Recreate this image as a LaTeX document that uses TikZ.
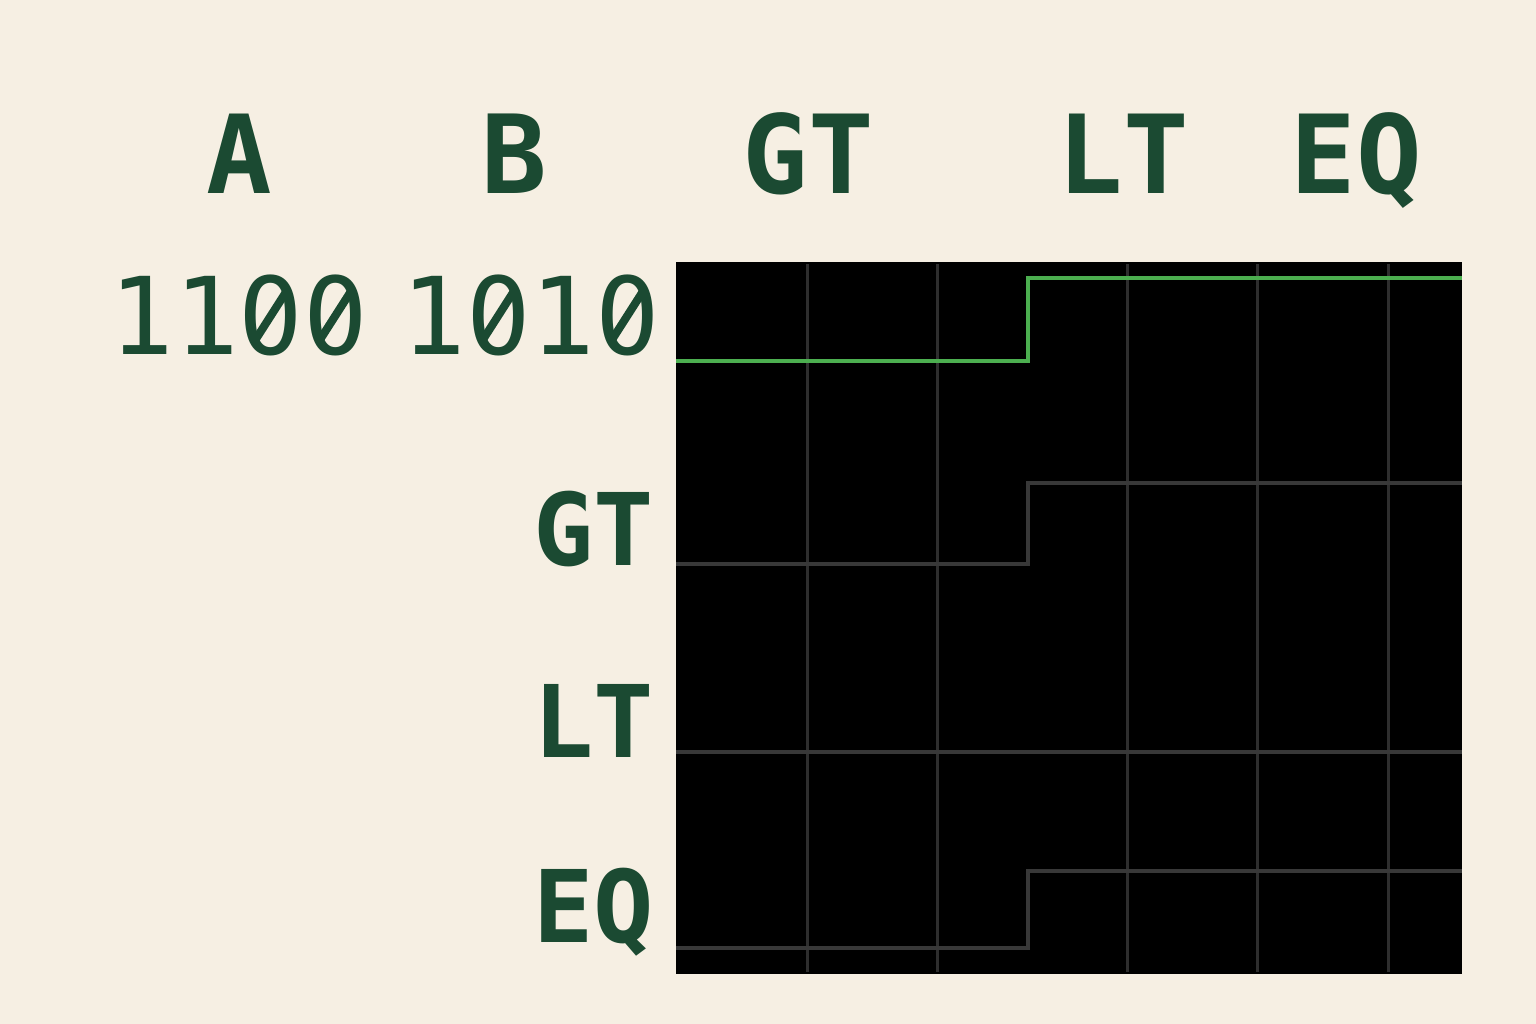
\documentclass[tikz,border=0pt]{standalone}
\usepackage{fontspec}
\newfontfamily\monof{DejaVu Sans Mono}
\definecolor{bgc}{HTML}{F6EFE3}
\definecolor{txt}{HTML}{1B4A32}
\definecolor{gridc}{HTML}{2E2E2E}
\definecolor{tracec}{HTML}{383838}
\definecolor{greenc}{HTML}{4CAF50}
\tikzset{
  head/.style={inner sep=0pt, anchor=base, text=txt, font=\monof\bfseries\fontsize{31}{31}\selectfont},
  val/.style={inner sep=0pt, anchor=base, text=txt, font=\monof\fontsize{30.5}{30.5}\selectfont},
  rowlab/.style={inner sep=0pt, anchor=base east, text=txt, font=\monof\bfseries\fontsize{28.5}{28.5}\selectfont},
  gridline/.style={draw=gridc, line width=0.85pt},
  sigtrace/.style={draw=tracec, line width=1.4pt},
  greentrace/.style={draw=greenc, line width=1.4pt},
  dotcover/.style={fill=bgc, draw=none},
  zslash/.style={draw=txt, line width=2.3pt, line cap=butt}
}
\newcommand\slashzero[1]{%
  \fill[dotcover] ($(#1)+(0,-39)$) circle (9);
  \draw[zslash] ($(#1)+(-16,-14)$) -- ($(#1)+(16,-64)$);
}
\usetikzlibrary{calc}
\begin{document}
\begin{tikzpicture}[x=0.01cm,y=-0.01cm]
\fill[bgc] (0,0) rectangle (1536,1024);
\useasboundingbox (0,0) rectangle (1536,1024);
% headings
\node[head] (hA) at (239,193) {A};
\node[head] (hB) at (514,193) {B};
\node[head] (hGT) at (808,193) {GT};
\node[head] (hLT) at (1123,193) {LT};
\node[head] (hEQ) at (1356,193) {EQ};
% values
\node[val] (vA) at (239,354) {1100};
\node[val] (vB) at (531,354) {1010};
\coordinate (zA1) at ($(vA.base)+(32.3,0)$);
\coordinate (zA2) at ($(vA.base)+(96.8,0)$);
\coordinate (zB1) at ($(vB.base)+(-32.3,0)$);
\coordinate (zB2) at ($(vB.base)+(96.8,0)$);
\slashzero{zA1}
\slashzero{zA2}
\slashzero{zB1}
\slashzero{zB2}
% row labels
\node[rowlab] (lGT) at (655,565) {GT};
\node[rowlab] (lLT) at (655,757) {LT};
\node[rowlab] (lEQ) at (655,942) {EQ};
% scope
\fill[black] (676,262) rectangle (1462,974);
\foreach \gx in {807,937,1127,1257,1388}
  \draw[gridline] (\gx,264) -- (\gx,972);
% traces
\draw[greentrace] (676,361) -- (1028,361) -- (1028,278) -- (1462,278);
\draw[sigtrace] (676,564) -- (1028,564) -- (1028,483) -- (1462,483);
\draw[sigtrace] (676,752) -- (1462,752);
\draw[sigtrace] (676,948) -- (1028,948) -- (1028,871) -- (1462,871);
\end{tikzpicture}
\end{document}
